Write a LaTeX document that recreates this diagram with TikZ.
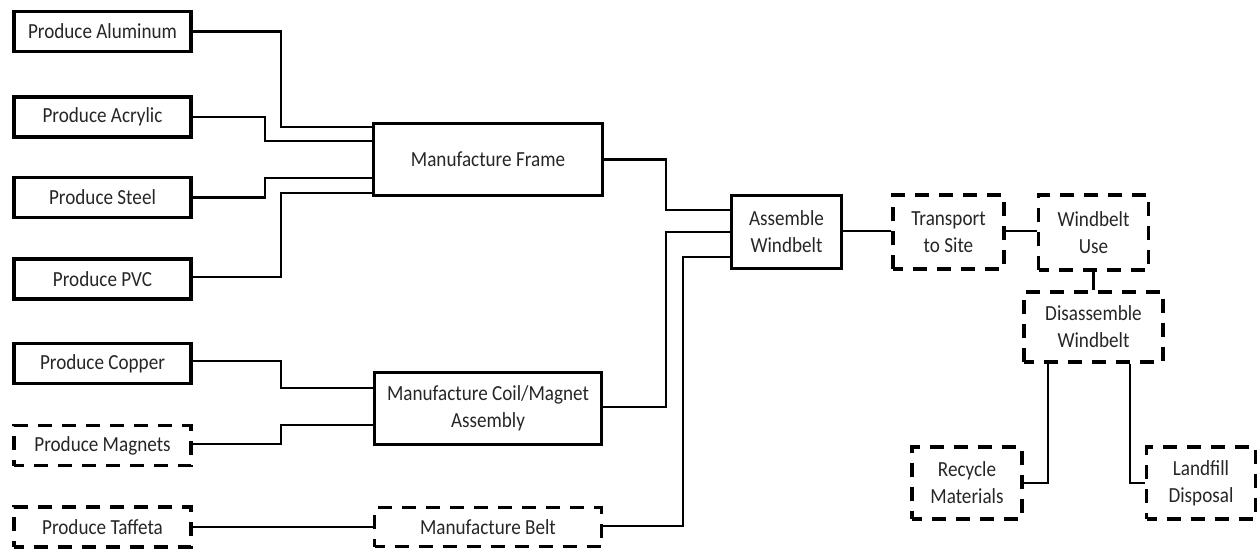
\documentclass[tikz,border=0pt]{standalone}
\usepackage{fontspec}
\usepackage{graphicx}
\setmainfont{Carlito}
\newcommand\sq[1]{\scalebox{0.89}[1]{#1}}
\begin{document}
\begin{tikzpicture}[x=1pt,y=-1pt,
  base/.style={draw=black, inner sep=0pt, align=center, text=black!85,
    font=\fontsize{21.5}{27}\selectfont},
  solidbox/.style={base, line width=3.1pt},
  thinbox/.style={base, line width=2.4pt},
  dashbox/.style={base, line width=3.5pt, dash pattern=on 14pt off 10pt, dash phase=4pt},
  conn/.style={draw=black, line width=2.1pt}]
\useasboundingbox (0,0) rectangle (1259,550);

% left column
\node[solidbox, minimum width=177pt, minimum height=40pt] (alu) at (102.5,31.5) {\sq{Produce Aluminum}};
\node[solidbox, minimum width=177pt, minimum height=40pt] (acr) at (102.5,117) {\sq{Produce Acrylic}};
\node[solidbox, minimum width=177pt, minimum height=40pt] (stl) at (102.5,197.5) {\sq{Produce Steel}};
\node[solidbox, minimum width=177pt, minimum height=40pt] (pvc) at (102.5,279) {\sq{Produce PVC}};
\node[solidbox, minimum width=177pt, minimum height=40pt] (cop) at (102.5,363.5) {\sq{Produce Copper}};
\node[dashbox, minimum width=177pt, minimum height=40pt] (mag) at (102.5,445.5) {\sq{Produce Magnets}};
\node[dashbox, minimum width=177pt, minimum height=40pt] (taf) at (102.5,527) {\sq{Produce Taffeta}};

% middle column
\node[solidbox, minimum width=229pt, minimum height=72pt] (frm) at (488,159.5) {\sq{Manufacture Frame}};
\node[solidbox, minimum width=227pt, minimum height=72pt] (coil) at (488,408.5) {\sq{Manufacture Coil/Magnet}\\\sq{Assembly}};
\node[dashbox, minimum width=227pt, minimum height=39pt] (belt) at (488,527) {\sq{Manufacture Belt}};

% right part
\node[thinbox, minimum width=110pt, minimum height=73pt] (asm) at (786.5,232) {\sq{Assemble}\\\sq{Windbelt}};
\node[dashbox, minimum width=111pt, minimum height=74pt] (trn) at (948.5,232) {\sq{Transport}\\\sq{to Site}};
\node[dashbox, minimum width=110pt, minimum height=75pt] (use) at (1093.5,232.5) {\sq{Windbelt}\\\sq{Use}};
\node[dashbox, minimum width=139pt, minimum height=70pt] (dis) at (1093.5,327) {\sq{Disassemble}\\\sq{Windbelt}};
\node[dashbox, minimum width=110pt, minimum height=72pt] (rec) at (967,483) {\sq{Recycle}\\\sq{Materials}};
\node[dashbox, minimum width=109pt, minimum height=72pt] (lnd) at (1201,483) {\sq{Landfill}\\\sq{Disposal}};

% connectors to frame
\draw[conn] (alu.east) -| (281,127) -- (frm.west |- 0,127);
\draw[conn] (acr.east) -| (265,141) -- (frm.west |- 0,141);
\draw[conn] (stl.east) -| (265,178) -- (frm.west |- 0,178);
\draw[conn] (pvc.east |- 0,277) -| (281,193) -- (frm.west |- 0,193);

% connectors to coil and belt
\draw[conn] (cop.east |- 0,361) -| (281,388) -- (coil.west |- 0,388);
\draw[conn] (mag.east |- 0,444) -| (281,425) -- (coil.west |- 0,425);
\draw[conn] (taf.east) -- (belt.west);

% connectors to assemble
\draw[conn] (frm.east) -| (666,210) -- (asm.west |- 0,210);
\draw[conn] (coil.east |- 0,407) -| (666,232) -- (asm.west |- 0,232);
\draw[conn] (belt.east |- 0,526) -| (683,257) -- (asm.west |- 0,257);

% downstream
\draw[conn] (asm.east |- 0,231) -- (trn.west |- 0,231);
\draw[conn] (trn.east |- 0,231) -- (use.west |- 0,231);
\draw[conn] (use.south) -- (dis.north);
\draw[conn] (dis.south -| 1048,0) |- (rec.east);
\draw[conn] (dis.south -| 1130,0) |- (lnd.west);
\end{tikzpicture}
\end{document}
